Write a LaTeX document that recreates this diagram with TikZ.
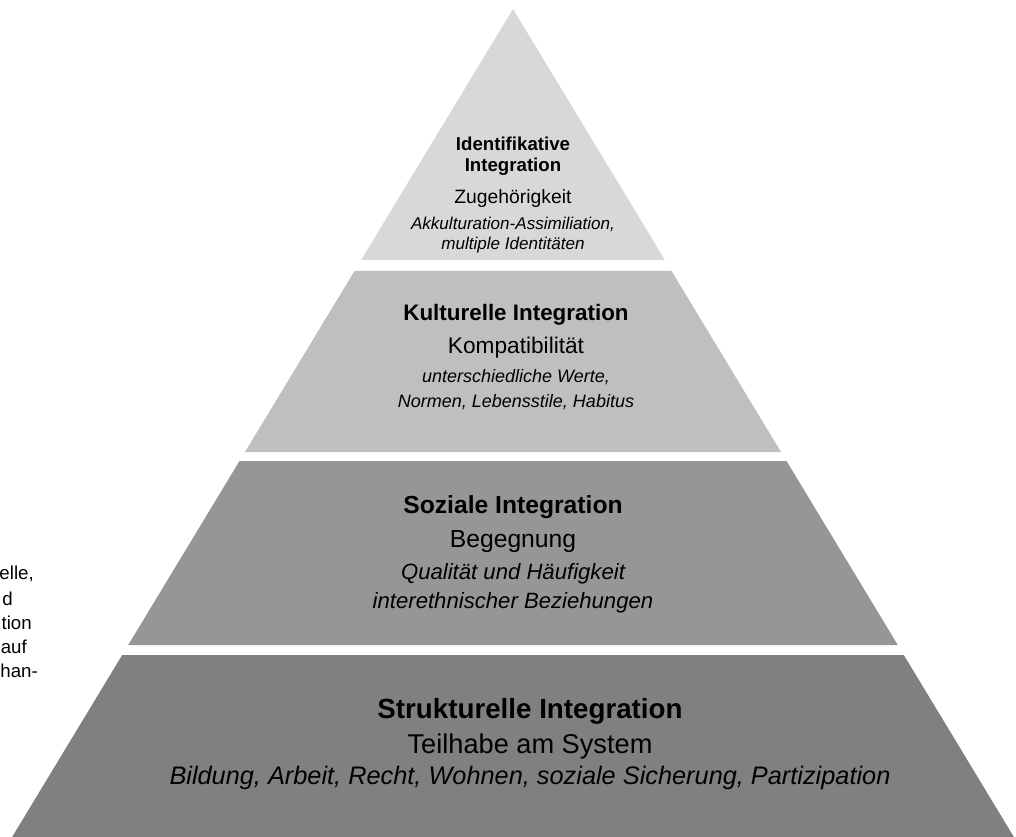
\documentclass[tikz,border=0pt]{standalone}
\usepackage{fontspec}
\setmainfont{Liberation Sans}
\definecolor{gA}{HTML}{D8D8D8}
\definecolor{gB}{HTML}{BFBFBF}
\definecolor{gC}{HTML}{969696}
\definecolor{gD}{HTML}{808080}
\newcommand{\fsz}[1]{\fontsize{#1pt}{#1pt}\selectfont}
\begin{document}
\begin{tikzpicture}[x=0.75pt,y=-0.75pt,
  lbl/.style={inner sep=0pt,anchor=center,text=black},
  ttl/.style={lbl,font=\bfseries\fsz{#1}},
  sub/.style={lbl,font=\fsz{#1}},
  itl/.style={lbl,font=\itshape\fsz{#1}},
  side/.style={inner sep=0pt,anchor=east,font=\fsz{14}}]
\useasboundingbox (0,0) rectangle (1016,837);
\clip (0,0) rectangle (1016,837);
% layers
\fill[gA] (513,9) -- (664.9,260) -- (361.1,260) -- cycle;
\fill[gB] (354.5,271) -- (671.5,271) -- (781,452) -- (245,452) -- cycle;
\fill[gC] (239.5,461) -- (786.5,461) -- (897.8,645) -- (128.2,645) -- cycle;
\fill[gD] (122.2,655) -- (903.8,655) -- (1013.9,837) -- (12.1,837) -- cycle;
% layer 1
\node[ttl=14] (a1) at (513,144) {Identifikative};
\node[ttl=14] (a2) at (513,167) {Integration};
\node[sub=14.5] (a3) at (513,199) {Zugehörigkeit};
\node[itl=12.8] (a4) at (513,224) {Akkulturation-Assimiliation,};
\node[itl=12.8] (a5) at (513,245) {multiple Identitäten};
% layer 2
\node[ttl=16.8] (b1) at (516,315) {Kulturelle Integration};
\node[sub=17] (b2) at (516,348) {Kompatibilität};
\node[itl=13.5] (b3) at (516,377) {unterschiedliche Werte,};
\node[itl=13.5] (b4) at (516,402) {Normen, Lebensstile, Habitus};
% layer 3
\node[ttl=18.5] (c1) at (513,507) {Soziale Integration};
\node[sub=18.5] (c2) at (513,542) {Begegnung};
\node[itl=16.6] (c3) at (513,574) {Qualität und Häufigkeit};
\node[itl=16.6] (c4) at (513,603) {interethnischer Beziehungen};
% layer 4
\node[ttl=20.8] (d1) at (530,711) {Strukturelle Integration};
\node[sub=20.4] (d2) at (530,746) {Teilhabe am System};
\node[itl=19] (d3) at (530,778) {Bildung, Arbeit, Recht, Wohnen, soziale Sicherung, Partizipation};
% side text fragments at the left edge
\node[side] (s1) at (34,574) {elle,};
\node[side] (s2) at (13,599) {d};
\node[side] (s3) at (32,623) {tion};
\node[side] (s4) at (27,647) {auf};
\node[side] (s5) at (38,671) {han-};
\end{tikzpicture}
\end{document}
